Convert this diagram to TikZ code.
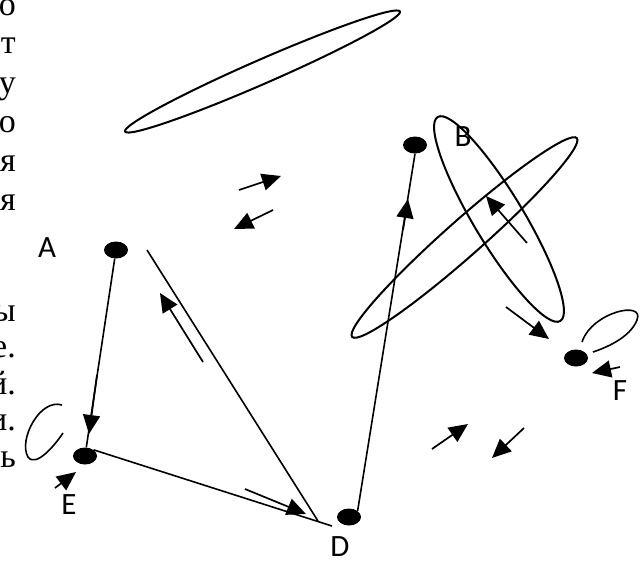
\documentclass[tikz,border=0pt]{standalone}
\usepackage{fontspec}
\setmainfont{Liberation Serif}
\newfontfamily\lblfont{Carlito}
\usetikzlibrary{arrows.meta,shapes.geometric}
\begin{document}
\begin{tikzpicture}[x=1pt,y=-1pt,
  dotnode/.style={ellipse,fill=black,minimum width=24pt,minimum height=17pt,inner sep=0pt},
  lbl/.style={font=\lblfont\fontsize{31}{31}\selectfont,inner sep=0pt},
  conn/.style={line width=1.6pt},
  arr/.style={line width=1.7pt,-{Triangle[length=19pt,width=17pt]}},
  txt/.style={font=\fontsize{34}{38}\selectfont,anchor=base east,inner sep=0pt},
  curvy/.style={line width=1.6pt},
  ring/.style={line width=2pt}
]
\useasboundingbox (0,0) rectangle (643,563);

% cut-off text at the left edge
\node[txt] (t1) at (16,15) {о};
\node[txt] (t2) at (16,53) {т};
\node[txt] (t3) at (16,93) {у};
\node[txt] (t4) at (16,132) {о};
\node[txt] (t5) at (16,171) {я};
\node[txt] (t6) at (16,210) {я};
\node[txt] (t7) at (16,321) {ы};
\node[txt] (t8) at (16,357) {е.};
\node[txt] (t9) at (16,394) {й.};
\node[txt] (t10) at (16,430) {и.};
\node[txt] (t11) at (16,467) {ь};

% dots
\node[dotnode] (A) at (116,250) {};
\node[dotnode] (E) at (85,456) {};
\node[dotnode] (D) at (349,517) {};
\node[dotnode] (B) at (415,145) {};
\node[dotnode] (F) at (576,358) {};

% labels
\node[lbl] (lA) at (47,248) {A};
\node[lbl] (lB) at (463,137) {B};
\node[lbl] (lD) at (340,547) {D};
\node[lbl] (lE) at (69,505) {E};
\node[lbl] (lF) at (620,391) {F};

% ellipses
\draw[ring,rotate around={23.6:(262.5,71.5)}] (262.5,71.5) ellipse [x radius=150, y radius=12];
\draw[ring,rotate around={-59:(499,219)}] (499,219) ellipse [x radius=119, y radius=25];
\draw[ring,rotate around={41.5:(464.5,237.5)}] (464.5,237.5) ellipse [x radius=150, y radius=18];

% main lines
\coordinate (adS) at (147,250);
\coordinate (adE) at (318,521);
\coordinate (edE) at (332,526);
\draw[conn] (A) -- (E);
\draw[conn] (E.north east) -- (edE);
\draw[conn] (adS) -- (adE);
\draw[conn] (D.north east) -- (B.south);

% loops
\draw[curvy] (62,405) .. controls (40,398) and (18,440) .. (28,457) .. controls (36,468) and (55,445) .. (63,433);
\draw[curvy] (582,342) .. controls (592,312) and (645,300) .. (637,320) .. controls (630,338) and (605,348) .. (593,352);

% short arrows
\coordinate (a1s) at (97,375);  \coordinate (a1e) at (89,434);
\coordinate (a2s) at (245,489); \coordinate (a2e) at (306,514);
\coordinate (a3s) at (203,362); \coordinate (a3e) at (160,293);
\coordinate (a4s) at (403,230); \coordinate (a4e) at (408,199);
\coordinate (a5s) at (527,243); \coordinate (a5e) at (486,196);
\coordinate (a6s) at (506,307); \coordinate (a6e) at (549,339);
\coordinate (a7s) at (239,190); \coordinate (a7e) at (281,176);
\coordinate (a8s) at (273,210); \coordinate (a8e) at (234,229);
\coordinate (a9s) at (432,449); \coordinate (a9e) at (468,424);
\coordinate (a10s) at (524,428); \coordinate (a10e) at (492,458);
\coordinate (a11s) at (55,488); \coordinate (a11e) at (76,472);
\coordinate (a12s) at (620,367); \coordinate (a12e) at (592,373);
\foreach \i in {1,...,12} {\draw[arr] (a\i s) -- (a\i e);}
\end{tikzpicture}
\end{document}
